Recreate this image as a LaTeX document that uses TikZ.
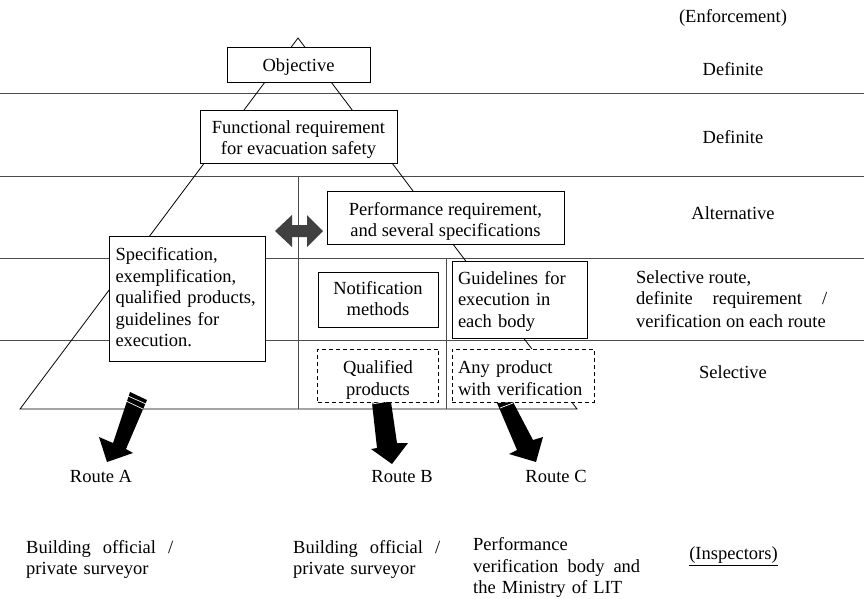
\documentclass[tikz,border=0pt]{standalone}
\usepackage{fontspec}
\setmainfont{Liberation Serif}
\newcommand{\downby}[1]{\rule{0pt}{#1pt}}
\newcommand{\upby}[1]{\rule[-#1pt]{0pt}{#1pt}}
\begin{document}
\begin{tikzpicture}[x=1pt,y=-1pt,
 txt/.style={font=\fontsize{18.5}{21.5}\selectfont,align=left,inner sep=0pt},
 ctr/.style={txt,align=center},
 solidbox/.style={draw=black,fill=white,line width=1pt,inner sep=0pt,ctr},
 dashbox/.style={draw=black,fill=white,dash pattern=on 4pt off 3pt,line width=.9pt,inner sep=0pt,ctr},
 thinline/.style={line width=.8pt,draw=black!70},
 bigarrow/.style={fill=black,draw=none},
 stripe/.style={draw=white,line width=.7pt}]
\useasboundingbox (0,0) rectangle (864,598);
\fill[white] (0,0) rectangle (864,598);
\coordinate (ht) at (298,38);
\coordinate (bl) at (20,409);
\coordinate (br) at (577,409);
\coordinate (l1a) at (0,93); \coordinate (l1b) at (864,93);
\coordinate (l2a) at (0,176.5); \coordinate (l2b) at (864,176.5);
\coordinate (l3a) at (0,258); \coordinate (l3b) at (864,258);
\coordinate (l4a) at (0,340); \coordinate (l4b) at (864,340);
\draw[thinline] (l1a)--(l1b); \draw[thinline] (l2a)--(l2b);
\draw[thinline] (l3a)--(l3b); \draw[thinline] (l4a)--(l4b);
\draw[thinline,draw=black] (ht)--(bl)--(br)--cycle;
\coordinate (v1a) at (298,176.5); \coordinate (v1b) at (298,409);
\coordinate (v2a) at (446,258); \coordinate (v2b) at (446,409);
\draw[thinline] (v1a)--(v1b); \draw[thinline] (v2a)--(v2b);
\node[solidbox,minimum width=143pt,minimum height=35pt] (obj) at (298.5,64.5) {\downby{17}Objective};
\node[solidbox,minimum width=197pt,minimum height=53pt] (func) at (298.5,136.5) {\downby{18.5}Functional requirement\\for evacuation safety};
\node[solidbox,minimum width=237pt,minimum height=53pt] (perf) at (445.5,217.5) {\downby{20.5}Performance requirement,\\and several specifications};
\node[solidbox,minimum width=156pt,minimum height=125pt,text width=143pt,align=left] (spec) at (187,298.5) {Specification,\\exemplification,\\qualified products,\\guidelines for\\execution.\upby{3}};
\node[solidbox,minimum width=120pt,minimum height=55pt] (notif) at (378,299.5) {Notification\\methods\upby{2}};
\node[solidbox,minimum width=135pt,minimum height=77pt,text width=123pt,align=left] (guide) at (519.5,299.5) {\downby{16.5}Guidelines for\\execution in\\each body};
\node[dashbox,minimum width=121pt,minimum height=53pt] (qual) at (378,375.5) {\downby{21.5}Qualified\\products};
\node[dashbox,minimum width=142pt,minimum height=53pt,text width=130pt,align=left] (any) at (523,375.5) {\downby{18.5}Any product\\with verification};
\fill[black!75] (275,231)--(292,215)--(292,225)--(307,225)--(307,215)--(323,231)--(307,247)--(307,237)--(292,237)--(292,247)--cycle;
\fill[bigarrow] (130,392)--(147,400)--(126,449)--(133,453)--(107,462)--(99,437)--(113,443)--cycle;
\draw[stripe] (128,396)--(146,404);
\draw[stripe] (126,401)--(143,409);
\fill[bigarrow] (372,403)--(391,402)--(397,443)--(408,443)--(392,464)--(371,449)--(377,448)--cycle;
\draw[stripe] (372,404)--(384,402);
\fill[bigarrow] (497,403)--(513,402)--(533,440)--(543,437)--(536,462)--(509,454)--(517,450)--cycle;
\draw[stripe] (500,408)--(513,403);
\node[txt] (enf) at (733,18) {(Enforcement)};
\node[ctr] (d1) at (733,69) {Definite};
\node[ctr] (d2) at (733,137) {Definite};
\node[ctr] (alt) at (733,213) {Alternative};
\node[txt,anchor=west] (sel1) at (636,278) {Selective route,};
\node[txt,anchor=west,text width=191pt] (sel2) at (636,300) {definite\hfill requirement\hfill /};
\node[txt,anchor=west] (sel3) at (636,321) {verification on each route};
\node[ctr] (sel) at (733,372) {Selective};
\node[txt] (ra) at (101,476) {Route A};
\node[txt] (rb) at (402,477) {Route B};
\node[txt] (rc) at (556,476) {Route C};
\node[txt,anchor=north west,text width=147pt] (i1) at (26,540) {Building\hfill official\hfill /\\private surveyor};
\node[txt,anchor=north west,text width=147pt] (i2) at (293,540) {Building\hfill official\hfill /\\private surveyor};
\node[txt,anchor=north west,text width=167pt] (i3) at (473,537.5) {Performance\\verification\hfill body\hfill and\\the Ministry of LIT};
\node[txt] (insp) at (733.5,556) {\underline{(Inspectors)}};
\end{tikzpicture}
\end{document}
